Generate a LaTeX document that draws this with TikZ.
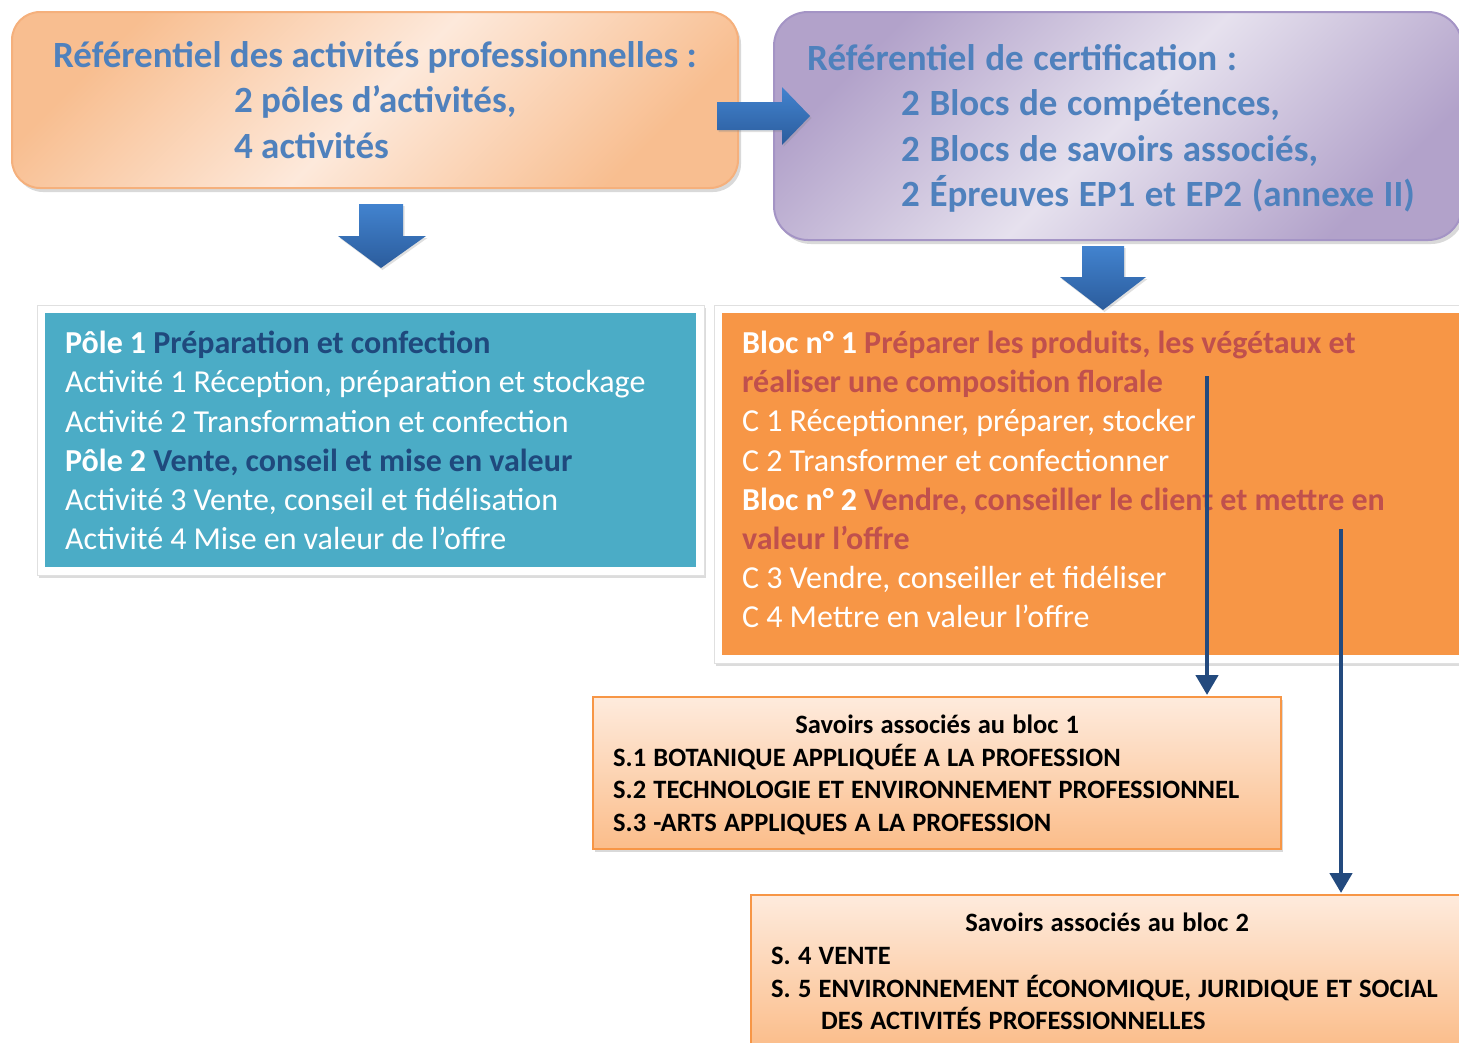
\documentclass[tikz,border=0pt]{standalone}
\usepackage{fontspec}
\setmainfont{Carlito}
\usetikzlibrary{shadows,arrows.meta,calc}
\definecolor{titleblue}{HTML}{4F81BD}
\definecolor{orL}{HTML}{FDE9DB}
\definecolor{orD}{HTML}{F8BE90}
\definecolor{orB}{HTML}{F5B07C}
\definecolor{puL}{HTML}{E6E1EE}
\definecolor{puD}{HTML}{B2A2CA}
\definecolor{puB}{HTML}{A494C5}
\definecolor{bluebox}{HTML}{4BACC6}
\definecolor{darkblue}{HTML}{1F497D}
\definecolor{orfill}{HTML}{F79646}
\definecolor{redtxt}{HTML}{C0504D}
\definecolor{arrline}{HTML}{234A7E}
\definecolor{bArrL}{HTML}{4283CF}
\definecolor{bArrD}{HTML}{2B5C9C}
\definecolor{savL}{HTML}{FEEBDD}
\definecolor{savD}{HTML}{FBBD8A}
\newcommand\setws[1]{\spaceskip=#1pt plus 1pt minus 1pt\relax}
\tikzset{
  topshadow/.style={drop shadow={opacity=0.3,shadow xshift=3pt,shadow yshift=-4pt}},
  framebox/.style={fill=white,draw=black!12,line width=0.8pt,
    drop shadow={opacity=0.28,shadow xshift=2pt,shadow yshift=-3pt}},
  txt/.style={inner sep=0pt,align=left,anchor=west},
  savbox/.style={top color=savL,bottom color=savD,draw=orfill,line width=2pt,
    drop shadow={opacity=0.3,shadow xshift=2pt,shadow yshift=-3pt}},
  savtxt/.style={txt,font={\fontsize{26.5}{32.7}\selectfont\bfseries\setws{7.2}}},
  bigtxt/.style={txt,font={\fontsize{32}{39.2}\selectfont\setws{7.1}}},
  blockarrow/.style={top color=bArrL,bottom color=bArrD,draw=none,
    drop shadow={opacity=0.25,shadow xshift=1.5pt,shadow yshift=-2pt}},
  thinarrow/.style={draw=arrline,line width=4.5pt,
    -{Triangle[width=22pt,length=20pt]},shorten >=1pt},
}
\begin{document}
\begin{tikzpicture}[x=1pt,y=-1pt]
\useasboundingbox (0,0) rectangle (1459,1042);
\clip (0,0) rectangle (1459,1042);

% top left rounded box
\node[topshadow,left color=orD,right color=orD,middle color=orL,shading angle=45,
  draw=orB,line width=2pt,rounded corners=28pt,
  minimum width=726pt,minimum height=176pt,inner sep=0pt,align=left,
  text=titleblue,font=\fontsize{37}{45.3}\selectfont\bfseries] (rap) at (375,100)
  {Référentiel des activités professionnelles :\\
   \hspace*{181pt}2 pôles d’activités,\\
   \hspace*{181pt}4 activités};

% top right rounded box
\node[topshadow,left color=puD,right color=puD,middle color=puL,shading angle=45,
  draw=puB,line width=2pt,rounded corners=34pt,
  minimum width=688pt,minimum height=228pt] (rcbox) at (1118,126) {};
\node[txt,text=titleblue,
  font={\fontsize{37}{45.3}\selectfont\bfseries\setws{9.6}}] (rc) at (807,128.5)
  {Référentiel de certification :\\
   \hspace*{94pt}2 Blocs de compétences,\\
   \hspace*{94pt}2 Blocs de savoirs associés,\\
   \hspace*{94pt}2 Épreuves EP1 et EP2 (annexe II)};

% poles box
\node[framebox,minimum width=667pt,minimum height=270pt] (poleframe) at (370.5,440) {};
\node[fill=bluebox,minimum width=651pt,minimum height=254pt] (polefill) at (370.5,440) {};
\node[bigtxt,text=white] (poles) at (65,440.5)
  {{\bfseries Pôle 1 {\color{darkblue}Préparation et confection}}\\
   Activité 1 Réception, préparation et stockage\\
   Activité 2 Transformation et confection\\
   {\bfseries Pôle 2 {\color{darkblue}Vente, conseil et mise en valeur}}\\
   Activité 3 Vente, conseil et fidélisation\\
   Activité 4 Mise en valeur de l’offre};

% blocs box
\node[framebox,minimum width=761pt,minimum height=358pt] (blocframe) at (1094.5,484) {};
\node[fill=orfill,minimum width=753pt,minimum height=342pt] (blocfill) at (1098.5,484) {};
\node[bigtxt,text=white] (blocs) at (742,479.5)
  {{\bfseries Bloc n° 1 {\color{redtxt}Préparer les produits, les végétaux et}}\\
   {\bfseries\color{redtxt}réaliser une composition florale}\\
   C 1 Réceptionner, préparer, stocker\\
   C 2 Transformer et confectionner\\
   {\bfseries Bloc n° 2 {\color{redtxt}Vendre, conseiller le client et mettre en}}\\
   {\bfseries\color{redtxt}valeur l’offre}\\
   C 3 Vendre, conseiller et fidéliser\\
   C 4 Mettre en valeur l’offre};

% savoirs boxes
\node[savbox,minimum width=688pt,minimum height=152pt] (sav1) at (937,773) {};
\node[savtxt] (sav1t) at (613,775)
  {\makebox[648pt]{Savoirs associés au bloc 1}\\
   S.1 BOTANIQUE APPLIQUÉE A LA PROFESSION\\
   S.2 TECHNOLOGIE ET ENVIRONNEMENT PROFESSIONNEL\\
   S.3 -ARTS APPLIQUES A LA PROFESSION};
\node[savbox,minimum width=724pt,minimum height=153pt] (sav2) at (1113,971.5) {};
\node[savtxt] (sav2t) at (771,971.5)
  {\makebox[672pt]{Savoirs associés au bloc 2}\\
   S. 4 VENTE\\
   S. 5 ENVIRONNEMENT ÉCONOMIQUE, JURIDIQUE ET SOCIAL\\
   \hspace*{50pt}DES ACTIVITÉS PROFESSIONNELLES};

% block arrows
\path[blockarrow] (717,102) -- (782,102) -- (782,87) -- (810,116) -- (782,145)
  -- (782,130) -- (717,130) -- cycle;
\path[blockarrow] (359,204) -- (403,204) -- (403,236) -- (426,236) -- (381,268)
  -- (338,236) -- (359,236) -- cycle;
\path[blockarrow] (1082,246) -- (1124,246) -- (1124,277) -- (1146,277) -- (1103,310)
  -- (1060,277) -- (1082,277) -- cycle;

% thin arrows
\coordinate (s1) at (1207,376);
\coordinate (s2) at (1341,529);
\draw[thinarrow] (s1) -- (s1 |- sav1.north);
\draw[thinarrow] (s2) -- (s2 |- sav2.north);
\end{tikzpicture}
\end{document}
